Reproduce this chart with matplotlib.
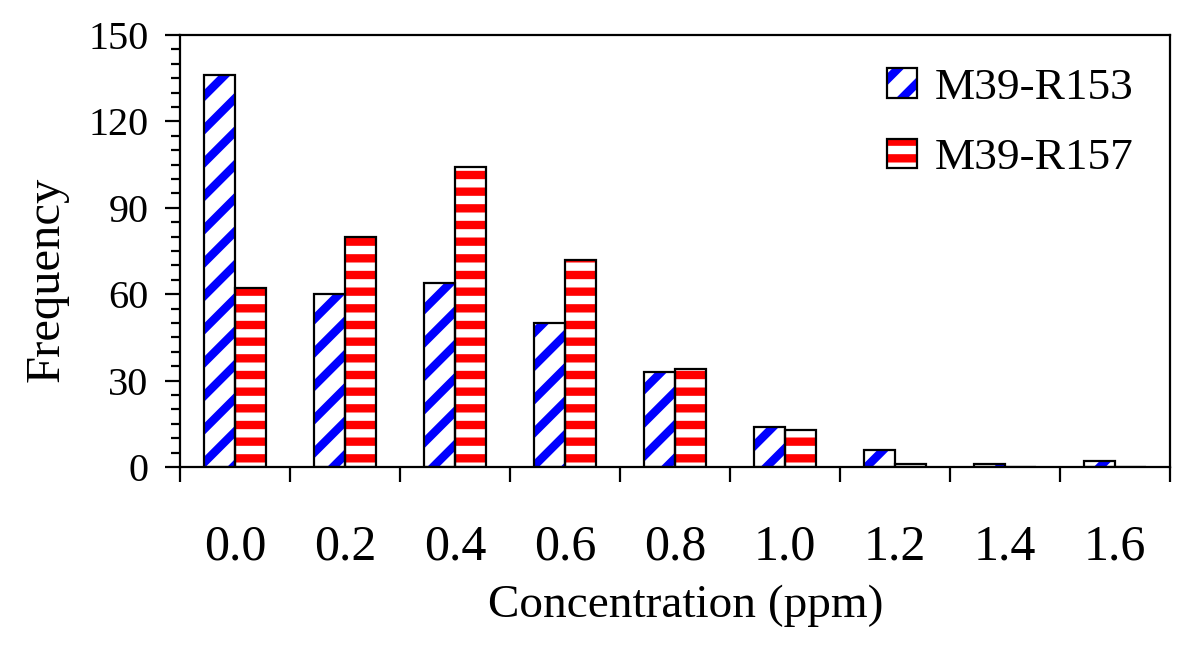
import matplotlib
matplotlib.use("Agg")
import matplotlib.pyplot as plt
import numpy as np
from matplotlib.ticker import FixedLocator, MultipleLocator, NullFormatter
from matplotlib.patches import Patch
from matplotlib.legend_handler import HandlerTuple

categories = ["0.0", "0.2", "0.4", "0.6", "0.8", "1.0", "1.2", "1.4", "1.6"]
r153 = [136, 60, 64, 50, 33, 14, 6, 1, 2]
r157 = [62, 80, 104, 72, 34, 13, 1, 0, 0]
series_names = ["M39-R153", "M39-R157"]

plt.rcParams['font.family'] = ['Liberation Serif', 'DejaVu Serif']
plt.rcParams['hatch.linewidth'] = 3.0

fig = plt.figure(figsize=(6, 3.25), dpi=200)
ax = fig.add_axes([180/1200, 1-467/650, (1170-180)/1200, (467-35)/650])

x = np.arange(len(categories))
w = 0.28
blue = "#0000ff"
red = "#ff0000"

ax.bar(x - w/2, r153, w, facecolor="white", edgecolor=blue, linewidth=0, hatch="//", zorder=2)
ax.bar(x - w/2, r153, w, facecolor="none", edgecolor="black", linewidth=0.8, zorder=3)
ax.bar(x + w/2, r157, w, facecolor="white", edgecolor=red, linewidth=0, hatch="--", zorder=2)
ax.bar(x + w/2, r157, w, facecolor="none", edgecolor="black", linewidth=0.8, zorder=3)

ax.set_xlim(-0.5, len(categories) - 0.5)
ax.set_ylim(0, 150)

ax.xaxis.set_major_locator(FixedLocator(np.arange(-0.5, len(categories), 1.0)))
ax.xaxis.set_major_formatter(NullFormatter())
ax.xaxis.set_minor_locator(FixedLocator(x))
ax.set_xticklabels(categories, minor=True)
ax.tick_params(axis='x', which='major', direction='out', length=5.4, width=0.8)
ax.tick_params(axis='x', which='minor', length=0, pad=20.5, labelsize=18)

ax.yaxis.set_major_locator(MultipleLocator(30))
ax.yaxis.set_minor_locator(MultipleLocator(5))
ax.tick_params(axis='y', which='major', direction='out', length=5.4, width=0.8, labelsize=14.5, pad=6)
ax.tick_params(axis='y', which='minor', direction='out', length=3.4, width=0.8)

for s in ax.spines.values():
    s.set_linewidth(0.8)

ax.set_xlabel("Concentration (ppm)", fontsize=17, labelpad=5)
ax.set_ylabel("Frequency", fontsize=17.5, labelpad=7)
ax.xaxis.set_label_coords(0.511, -0.271)
ax.yaxis.label.set_y(0.435)

h1 = (Patch(facecolor="white", edgecolor=blue, linewidth=0, hatch="//"),
      Patch(facecolor="none", edgecolor="black", linewidth=0.8))
h2 = (Patch(facecolor="white", edgecolor=red, linewidth=0, hatch="--"),
      Patch(facecolor="none", edgecolor="black", linewidth=0.8))
ax.legend([h1, h2], series_names, handler_map={tuple: HandlerTuple(ndivide=1, pad=0)},
          loc='upper left', bbox_to_anchor=(887/1200, 1-68/650), bbox_transform=fig.transFigure,
          frameon=False, fontsize=16.3, handlelength=0.67, handleheight=0.62,
          handletextpad=0.38, labelspacing=0.67, borderpad=0, borderaxespad=0)

fig.savefig("out.png", dpi=200)
